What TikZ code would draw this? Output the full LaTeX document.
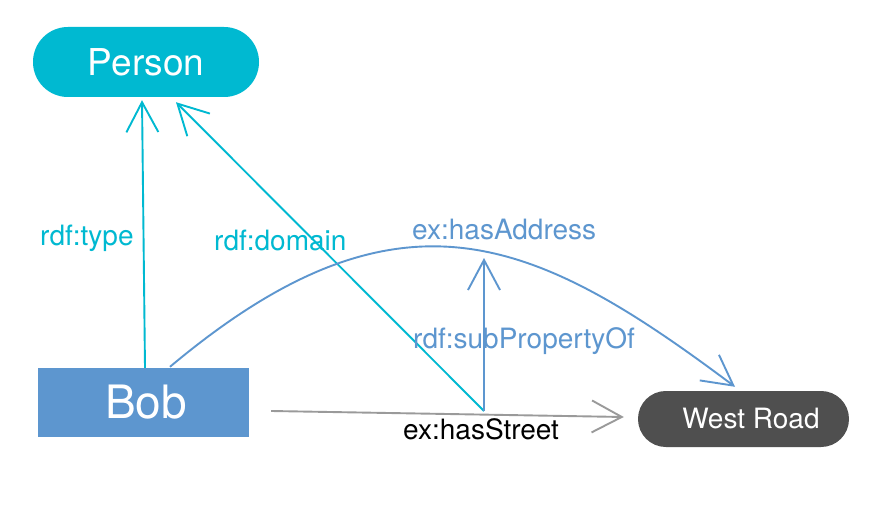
\documentclass[tikz,border=0pt]{standalone}
\usepackage{fontspec}
\setmainfont{TeX Gyre Heros}
\usetikzlibrary{arrows.meta,calc}
\definecolor{cyanc}{HTML}{00B9D1}
\definecolor{bluec}{HTML}{5D96CF}
\definecolor{darkc}{HTML}{4F4F4F}
\definecolor{grayc}{HTML}{9A9A9A}
\tikzset{
  barb/.style={-{Straight Barb[length=30pt,width=32pt,line width=1.9pt]}, line width=1.9pt},
  lbl/.style={anchor=base west, inner sep=0pt, font=\fontsize{28}{30}\selectfont},
}
\begin{document}
\begin{tikzpicture}[x=1pt,y=-1pt]
\useasboundingbox (0,0) rectangle (892,524);
\fill[white] (0,0) rectangle (892,524);
% nodes
\node[fill=cyanc, text=white, rounded corners=34.9pt, minimum width=226pt, minimum height=70pt, inner sep=0pt,
      font=\fontsize{37}{40}\selectfont] (person) at (146,62) {Person};
\node[fill=bluec, text=white, minimum width=211pt, minimum height=69pt, inner sep=0pt,
      font=\fontsize{46}{50}\selectfont] (bob) at (143.5,402.5) {\hspace*{5pt}Bob};
\node[fill=darkc, text=white, rounded corners=27.9pt, minimum width=211pt, minimum height=56pt, inner sep=0pt,
      font=\fontsize{28}{30}\selectfont] (road) at (743.5,419) {\hspace*{15pt}West Road};
% junction on ex:hasStreet
\coordinate (j) at (484,411);
\coordinate (addrpt) at (484,258);
% rdf:type
\draw[barb, cyanc] ($(bob.north)+(1.5,0)$) -- ($(person.south)+(-4,3)$);
% rdf:domain
\draw[barb, cyanc] (j) -- ($(person.south)+(30,5)$);
% ex:hasStreet
\draw[barb, grayc] ($(bob.east)+(22,8.5)$) -- ($(road.west)+(-14,-2)$);
% ex:hasAddress
\draw[barb, bluec] ($(bob.north)+(26.5,-1)$) .. controls (400,174) and (535,237) .. ($(road.north)+(-8.5,-4)$);
% rdf:subPropertyOf
\draw[barb, bluec] (j) -- (addrpt);
% labels
\node[lbl, text=cyanc] (ltype) at (40,245) {rdf:type};
\node[lbl, text=cyanc] (ldomain) at (214,250) {rdf:domain};
\node[lbl, text=bluec] (laddr) at (412,240) {ex:hasAddress};
\node[lbl, text=bluec] (lsub) at (413,348) {rdf:subPropertyOf};
\node[lbl, text=black] (lstreet) at (403,439) {ex:hasStreet};
\end{tikzpicture}
\end{document}
